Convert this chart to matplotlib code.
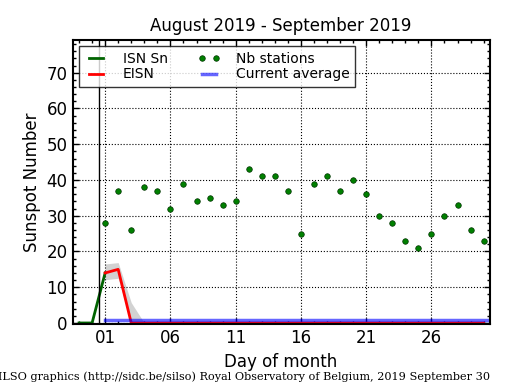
import numpy as np
import matplotlib
matplotlib.use('Agg')
import matplotlib.pyplot as plt
from matplotlib.ticker import MultipleLocator

# data (day of month, Sept 2019; days <=0 belong to August)
isn_days = [-1, 0, 1]
isn_values = [0, 0, 14]

eisn_days = list(range(1, 31))
eisn_values = [14, 15] + [0] * 28
band_days = [1, 2, 3, 4]
band_low = [12.1, 12.5, 0, 0]
band_high = [16.5, 16.9, 5.7, 0]

nb_days = list(range(1, 31))
nb_stations = [28, 37, 26, 38, 37, 32, 39, 34, 35, 33,
               34, 43, 41, 41, 37, 25, 39, 41, 37, 40,
               36, 30, 28, 23, 21, 25, 30, 33, 26, 23]

avg_days = [1, 31]
current_average = [0.7, 0.7]

month_start = 0.5
tick_days = [1, 6, 11, 16, 21, 26]
tick_labels = ['01', '06', '11', '16', '21', '26']

plt.rcParams['font.family'] = 'DejaVu Sans'
fig = plt.figure(figsize=(5.15, 3.9), dpi=100)
ax = fig.add_axes([0.1408, 0.168, 0.8097, 0.7307])

ax.fill_between(band_days, band_low, band_high, color='gray', alpha=0.35, lw=0)
ax.plot(isn_days, isn_values, color='darkgreen', lw=2, label='ISN Sn')
ax.plot(eisn_days, eisn_values, color='red', lw=2, label='EISN')
ax.plot(nb_days, nb_stations, 'o', color='green', ms=4, mec='#003300', mew=0.5,
        label='Nb stations')
ax.plot(avg_days, current_average, color='blue', alpha=0.6, lw=2.5, label='Current average')
ax.axvline(month_start, color='black', lw=1)

ax.set_xlim(-1.5, 30.45)
ax.set_ylim(-0.42, 79.3)
ax.set_xticks(tick_days)
ax.set_xticklabels(tick_labels)
ax.xaxis.set_minor_locator(MultipleLocator(1))
ax.yaxis.set_major_locator(MultipleLocator(10))
ax.yaxis.set_minor_locator(MultipleLocator(2))
ax.tick_params(which='both', direction='in', top=True, right=True, labelsize=12)
ax.tick_params(which='major', length=4, width=1)
ax.tick_params(which='minor', length=2.5, width=1)
ax.grid(True, which='major', color='black', linestyle=':', lw=0.8)
for s in ax.spines.values():
    s.set_linewidth(1.5)

ax.set_title('August 2019 - September 2019', fontsize=12)
ax.set_xlabel('Day of month', fontsize=12)
ax.set_ylabel('Sunspot Number', fontsize=12)

leg = ax.legend(loc='upper left', ncol=2, numpoints=2, fontsize=10, fancybox=False,
                borderaxespad=0.5, handlelength=1.6, handletextpad=1.1,
                columnspacing=2.2, labelspacing=0.1, borderpad=0.4)
leg.get_frame().set_edgecolor('black')
leg.get_frame().set_linewidth(1)

fig.text(490 / 515, 0.025, 'SILSO graphics (http://sidc.be/silso) Royal Observatory of Belgium, 2019 September 30',
         ha='right', fontsize=8.15, family='DejaVu Serif')

fig.savefig('out.png', dpi=100)
